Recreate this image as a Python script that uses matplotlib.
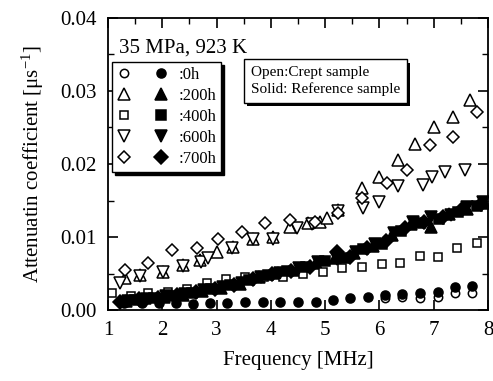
import matplotlib
matplotlib.use("Agg")
import matplotlib.pyplot as plt
from matplotlib.legend_handler import HandlerTuple
import matplotlib.patheffects as pe

plt.rcParams["font.family"] = ["Liberation Serif", "DejaVu Serif"]
plt.rcParams["mathtext.fontset"] = "stix"

# ---- crept samples (open markers) ----
f_open_0h = [6.10, 6.41, 6.75, 7.08, 7.40, 7.70]
v_open_0h = [0.0016, 0.0018, 0.0016, 0.0018, 0.0023, 0.0023]

f_open_200h = [1.31, 1.59, 2.01, 2.38, 2.70, 3.00, 3.30, 3.67, 4.04, 4.35, 4.68,
               4.90, 5.03, 5.24, 5.68, 6.00, 6.34, 6.65, 7.00, 7.35, 7.67]
v_open_200h = [0.0044, 0.0048, 0.0052, 0.0062, 0.0068, 0.0079, 0.0086, 0.0098, 0.0100, 0.0114, 0.0119,
               0.0121, 0.0126, 0.0137, 0.0167, 0.0182, 0.0205, 0.0228, 0.0250, 0.0264, 0.0288]

f_open_400h = [1.07, 1.42, 1.74, 2.10, 2.45, 2.82, 3.17, 3.52, 3.87, 4.22, 4.60,
               4.96, 5.31, 5.68, 6.05, 6.38, 6.75, 7.08, 7.42, 7.80]
v_open_400h = [0.0023, 0.0019, 0.0023, 0.0025, 0.0029, 0.0037, 0.0042, 0.0045, 0.0046, 0.0045, 0.0050,
               0.0052, 0.0057, 0.0059, 0.0063, 0.0064, 0.0074, 0.0073, 0.0085, 0.0092]

f_open_600h = [1.22, 1.59, 2.01, 2.38, 2.72, 2.84, 3.28, 3.67, 4.04, 4.48, 4.75,
               5.24, 5.70, 6.00, 6.34, 6.80, 6.97, 7.20, 7.57]
v_open_600h = [0.0037, 0.0047, 0.0052, 0.0061, 0.0066, 0.0071, 0.0085, 0.0097, 0.0098, 0.0112, 0.0118,
               0.0136, 0.0140, 0.0148, 0.0170, 0.0171, 0.0182, 0.0189, 0.0192]

f_open_700h = [1.31, 1.74, 2.18, 2.64, 3.03, 3.47, 3.89, 4.35, 4.81, 5.24, 5.68,
               6.14, 6.50, 6.93, 7.35, 7.80]
v_open_700h = [0.0055, 0.0064, 0.0082, 0.0085, 0.0098, 0.0107, 0.0119, 0.0123, 0.0121, 0.0133, 0.0153,
               0.0174, 0.0192, 0.0226, 0.0237, 0.0271]

# ---- reference samples (solid markers) ----
f_ref_0h = [1.30, 1.62, 1.94, 2.26, 2.57, 2.88, 3.20, 3.52, 3.85, 4.17, 4.50,
            4.83, 5.14, 5.46, 5.79, 6.10, 6.41, 6.75, 7.08, 7.40, 7.70]
v_ref_0h = [0.0010, 0.0010, 0.0010, 0.0010, 0.0009, 0.0010, 0.0010, 0.0011, 0.0011, 0.0011, 0.0011,
            0.0011, 0.0014, 0.0016, 0.0018, 0.0021, 0.0022, 0.0023, 0.0025, 0.0031, 0.0033]

f_ref_200h = [1.33, 1.68, 2.03, 2.38, 2.73, 3.08, 3.43, 3.78, 4.13, 4.48,
              4.83, 5.18, 5.53, 5.88, 6.23, 6.58, 6.95, 7.28, 7.62, 7.92]
v_ref_200h = [0.0013, 0.0016, 0.0018, 0.0021, 0.0026, 0.0030, 0.0036, 0.0045, 0.0051, 0.0055,
              0.0064, 0.0072, 0.0078, 0.0088, 0.0103, 0.0118, 0.0114, 0.0131, 0.0138, 0.0146]

f_ref_400h = [1.50, 1.85, 2.20, 2.55, 2.90, 3.25, 3.60, 3.95, 4.30, 4.65,
              5.00, 5.35, 5.70, 6.05, 6.40, 6.75, 7.10, 7.45, 7.80]
v_ref_400h = [0.0014, 0.0017, 0.0020, 0.0024, 0.0029, 0.0034, 0.0041, 0.0048, 0.0053, 0.0059,
              0.0067, 0.0071, 0.0083, 0.0091, 0.0108, 0.0119, 0.0125, 0.0134, 0.0143]

f_ref_600h = [1.36, 1.71, 2.06, 2.41, 2.76, 3.11, 3.46, 3.81, 4.16, 4.51,
              4.86, 5.21, 5.56, 5.91, 6.26, 6.61, 6.95, 7.31, 7.62, 7.90]
v_ref_600h = [0.0012, 0.0015, 0.0019, 0.0022, 0.0027, 0.0032, 0.0037, 0.0046, 0.0051, 0.0057,
              0.0066, 0.0070, 0.0080, 0.0090, 0.0105, 0.0120, 0.0127, 0.0130, 0.0141, 0.0148]

f_ref_700h = [1.22, 1.57, 1.92, 2.27, 2.62, 2.97, 3.32, 3.67, 4.02, 4.37,
              4.72, 5.22, 5.45, 5.77, 6.12, 6.47, 6.82, 7.17, 7.52, 7.87]
v_ref_700h = [0.0011, 0.0015, 0.0017, 0.0021, 0.0025, 0.0029, 0.0035, 0.0042, 0.0049, 0.0054,
              0.0059, 0.0079, 0.0073, 0.0085, 0.0095, 0.0112, 0.0121, 0.0127, 0.0138, 0.0145]

hours = [":0h", ":200h", ":400h", ":600h", ":700h"]
markers = ["o", "^", "s", "v", "D"]
sizes = [6, 8, 6, 8, 6.5]
ref_sizes = [6.5, 8.5, 7, 8.5, 7]

open_sets = [(f_open_0h, v_open_0h), (f_open_200h, v_open_200h), (f_open_400h, v_open_400h),
             (f_open_600h, v_open_600h), (f_open_700h, v_open_700h)]
ref_sets = [(f_ref_0h, v_ref_0h), (f_ref_200h, v_ref_200h), (f_ref_400h, v_ref_400h),
            (f_ref_600h, v_ref_600h), (f_ref_700h, v_ref_700h)]

fig = plt.figure(figsize=(4.93, 3.81), dpi=100)
ax = fig.add_axes([0.219, 0.186, 0.771, 0.767])

handles = []
for i in range(5):
    fo, vo = open_sets[i]
    fr, vr = ref_sets[i]
    ho, = ax.plot(fo, vo, linestyle="none", marker=markers[i], ms=sizes[i],
                  mfc="white", mec="black", mew=1.1)
    hr, = ax.plot(fr, vr, linestyle="none", marker=markers[i], ms=ref_sizes[i],
                  mfc="black", mec="black", mew=1.1)
    handles.append((ho, hr))

ax.set_xlim(1, 8)
ax.set_ylim(0, 0.04)
ax.set_xticks(range(1, 9))
ax.set_yticks([0.00, 0.01, 0.02, 0.03, 0.04])
ax.set_yticklabels(["0.00", "0.01", "0.02", "0.03", "0.04"])
ax.set_xticks([1.5, 2.5, 3.5, 4.5, 5.5, 6.5, 7.5], minor=True)
ax.set_yticks([0.005, 0.015, 0.025, 0.035], minor=True)
ax.tick_params(which="major", direction="in", length=7, width=1.2, top=True, right=True,
               labelsize=15, pad=8)
ax.tick_params(which="minor", direction="in", length=4, width=1.0, top=True, right=True, bottom=False)
for s in ax.spines.values():
    s.set_linewidth(1.3)

ax.set_xlabel("Frequency [MHz]", fontsize=15, labelpad=8)
ax.set_ylabel("Attenuatin coefficient [μs$^{\\mathregular{-1}}$]", fontsize=15, labelpad=10)

ax.text(0.03, 0.897, "35 MPa, 923 K", transform=ax.transAxes, fontsize=15, va="center", ha="left")

leg = ax.legend(handles, hours, handler_map={tuple: HandlerTuple(ndivide=None, pad=1.4)},
                loc="upper left", bbox_to_anchor=(0.01, 0.85), borderaxespad=0,
                fontsize=12, handlelength=3.1, handletextpad=0.6, labelspacing=0.3,
                borderpad=0.3, fancybox=False, edgecolor="black", framealpha=1,
                shadow={"color": "black", "alpha": 1})
leg.get_frame().set_linewidth(1.0)

t = ax.text(0.375, 0.835, "Open:Crept sample\nSolid: Reference sample", transform=ax.transAxes,
            fontsize=11, va="top", ha="left", linespacing=1.3,
            bbox=dict(boxstyle="square,pad=0.45", fc="white", ec="black", lw=1.0))
t.get_bbox_patch().set_path_effects([pe.withSimplePatchShadow(offset=(2.5, -2.5), shadow_rgbFace="black", alpha=1)])

fig.savefig("out.png", dpi=100)
